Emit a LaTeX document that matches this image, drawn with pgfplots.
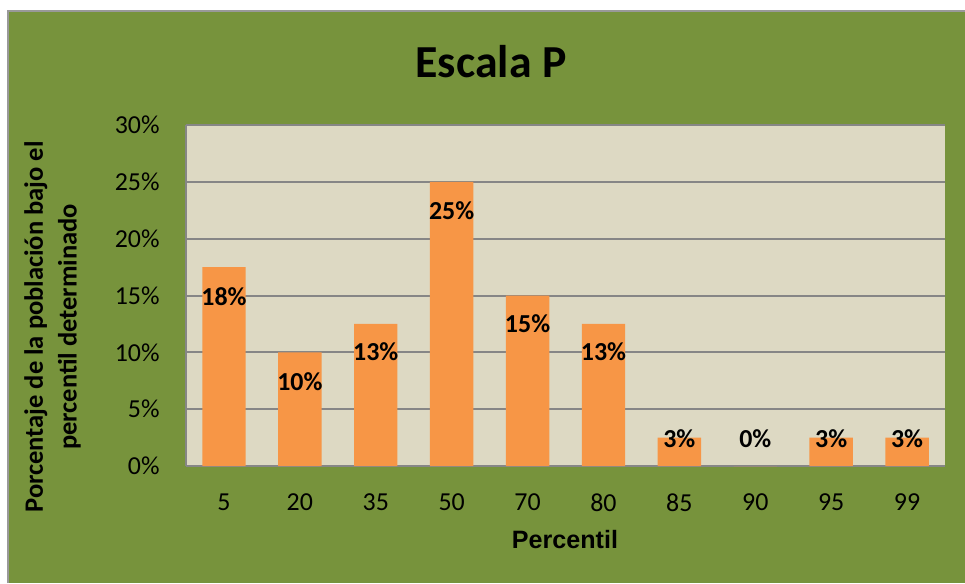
\documentclass[border=0pt]{standalone}
\usepackage{fontspec}
\setmainfont{Carlito}
\newfontfamily\arialfont{Liberation Sans}
\usepackage{pgfplots}
\pgfplotsset{compat=1.18}
\definecolor{bggreen}{HTML}{77933C}
\definecolor{plotbeige}{HTML}{DDD9C3}
\definecolor{barorange}{HTML}{F79646}
\definecolor{gridgray}{HTML}{868686}

\begin{document}
\begin{tikzpicture}[x=1bp,y=1bp]
\useasboundingbox (0,0) rectangle (482.5,291.5);
\fill[white] (0,0) rectangle (482.5,291.5);
\fill[bggreen] (3.75,0) rectangle (482.5,286);
\draw[gray!80, line width=1bp] (3.75,0) -- (3.75,286) -- (482.5,286);

% title and axis labels
\node[font=\bfseries\fontsize{23}{28}\selectfont, anchor=base] at (245.5,253) {Escala P};
\node[font=\arialfont\bfseries\fontsize{12.6}{15}\selectfont, anchor=base] at (282.5,17.5) {Percentil};
\node[rotate=90, align=center, font=\bfseries\fontsize{13.3}{17}\selectfont] at (26.25,128)
  {Porcentaje de la población bajo el\\percentil determinado};

\begin{axis}[
  at={(93bp,58.5bp)}, anchor=south west,
  scale only axis, width=379.5bp, height=170.5bp,
  xmin=-0.5, xmax=9.5, ymin=0, ymax=30,
  axis background/.style={fill=plotbeige},
  axis x line*=bottom, axis y line*=left,
  axis line style={gridgray, line width=1bp, -},
  ymajorgrids, grid style={gridgray, line width=1bp},
  major tick length=0pt,
  xtick={0,...,9},
  xticklabels={5,20,35,50,70,80,85,90,95,99},
  ytick={0,5,10,15,20,25,30},
  yticklabels={0\%,5\%,10\%,15\%,20\%,25\%,30\%},
  ticklabel style={font=\fontsize{13}{15}\selectfont, inner sep=0pt},
  xticklabel style={anchor=north, yshift=-13.5bp},
  yticklabel style={anchor=east, xshift=-13bp},
  clip=false,
]
\addplot[ybar, bar width=21.7bp, fill=barorange, draw=none]
  coordinates {(0,17.5) (1,10) (2,12.5) (3,25) (4,15) (5,12.5) (6,2.5) (7,0) (8,2.5) (9,2.5)};
\addplot[draw=none, mark=none, nodes near coords, point meta=explicit symbolic,
  every node near coord/.append style={font=\bfseries\fontsize{13}{15}\selectfont, inner sep=0pt, anchor=center}]
  coordinates {(0,14.86)[18\%] (1,7.39)[10\%] (2,10.03)[13\%] (3,22.43)[25\%] (4,12.49)[15\%]
               (5,10.03)[13\%] (6,2.4)[3\%] (7,2.4)[0\%] (8,2.4)[3\%] (9,2.4)[3\%]};
\end{axis}
\end{tikzpicture}
\end{document}
